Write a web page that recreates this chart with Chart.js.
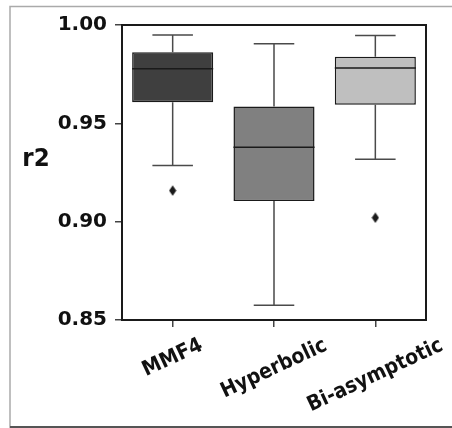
<!DOCTYPE html>
<html>
<head>
<meta charset="utf-8">
<script src="https://cdn.jsdelivr.net/npm/chart.js@4.4.0/dist/chart.umd.min.js"></script>
<style>
  html, body { margin: 0; padding: 0; background: #fff; }
  #wrap { width: 452px; height: 428px; position: relative; }
</style>
</head>
<body>
<div id="wrap"><canvas id="boxChart" width="452" height="428"></canvas></div>
<script>
// --- Data ---
const categories = ["MMF4", "Hyperbolic", "Bi-asymptotic"];
const whiskerLow = [0.9286, 0.8575, 0.9317];
const q1 = [0.9607, 0.9105, 0.9595];
const medians = [0.9778, 0.9378, 0.9781];
const q3 = [0.9861, 0.9585, 0.9839];
const whiskerHigh = [0.9949, 0.9905, 0.9946];
const outliers = [0.9158, null, 0.9020];
const yTicks = [0.85, 0.90, 0.95, 1.00];
const boxColors = ["#3f3f3f", "#808080", "#bfbfbf"];

Chart.defaults.font.family = "'DejaVu Sans', sans-serif";

// thin diamond marker like matplotlib 'd'
const diamond = document.createElement("canvas");
diamond.width = 8; diamond.height = 11;
(function () {
  const c = diamond.getContext("2d");
  c.fillStyle = "#1a1a1a";
  c.beginPath();
  c.moveTo(4, 0.3); c.lineTo(7.6, 5.5); c.lineTo(4, 10.7); c.lineTo(0.4, 5.5);
  c.closePath(); c.fill();
})();

// --- Whiskers, medians, frame and texts ---
const boxExtras = {
  id: "boxExtras",
  beforeDraw(chart) {
    const ctx = chart.ctx;
    ctx.save();
    ctx.lineWidth = 1.5;
    ctx.strokeStyle = "#aaa";
    ctx.beginPath();
    ctx.moveTo(10, 452); ctx.lineTo(10, 6.5); ctx.lineTo(452, 6.5);
    ctx.stroke();
    ctx.strokeStyle = "#555";
    ctx.lineWidth = 2;
    ctx.beginPath();
    ctx.moveTo(10, 427); ctx.lineTo(452, 427);
    ctx.stroke();
    ctx.restore();
  },
  afterDatasetsDraw(chart) {
    const ctx = chart.ctx;
    const x = chart.scales.x, y = chart.scales.y;
    const bars = chart.getDatasetMeta(0).data;
    ctx.save();
    categories.forEach((c, i) => {
      const cx = x.getPixelForValue(i);
      const half = bars[i].width / 2;
      const capHalf = half / 2;
      // whiskers
      ctx.strokeStyle = "#4a4a4a";
      ctx.lineWidth = 1.5;
      ctx.beginPath();
      ctx.moveTo(cx, y.getPixelForValue(q3[i]));
      ctx.lineTo(cx, y.getPixelForValue(whiskerHigh[i]));
      ctx.moveTo(cx, y.getPixelForValue(q1[i]));
      ctx.lineTo(cx, y.getPixelForValue(whiskerLow[i]));
      ctx.moveTo(cx - capHalf, y.getPixelForValue(whiskerHigh[i]));
      ctx.lineTo(cx + capHalf, y.getPixelForValue(whiskerHigh[i]));
      ctx.moveTo(cx - capHalf, y.getPixelForValue(whiskerLow[i]));
      ctx.lineTo(cx + capHalf, y.getPixelForValue(whiskerLow[i]));
      ctx.stroke();
      // median
      ctx.strokeStyle = "#1a1a1a";
      ctx.beginPath();
      ctx.moveTo(cx - half, y.getPixelForValue(medians[i]));
      ctx.lineTo(cx + half, y.getPixelForValue(medians[i]));
      ctx.stroke();
    });
    ctx.restore();
  },
  afterDraw(chart) {
    const ctx = chart.ctx;
    const a = chart.chartArea;
    const x = chart.scales.x;
    ctx.save();
    // plot frame
    ctx.strokeStyle = "#1a1a1a";
    ctx.lineWidth = 2;
    ctx.strokeRect(a.left, a.top, a.right - a.left, a.bottom - a.top);
    // y title, horizontal
    ctx.fillStyle = "#111";
    ctx.font = "bold 25px 'DejaVu Sans'";
    ctx.textAlign = "center";
    ctx.textBaseline = "middle";
    ctx.save();
    ctx.translate(36, (a.top + a.bottom) / 2 - 13);
    ctx.scale(0.92, 1);
    ctx.fillText("r2", 0, 0);
    ctx.restore();
    // x labels rotated 25deg, centred on tick
    const ang = 25 * Math.PI / 180;
    const fs = 21;
    ctx.font = "bold " + fs + "px 'DejaVu Sans'";
    categories.forEach((c, i) => {
      const w = ctx.measureText(c).width * 0.9;
      const bboxH = w * Math.sin(ang) + fs * Math.cos(ang);
      const cx = x.getPixelForValue(i);
      const cy = a.bottom + 15 + bboxH / 2;
      ctx.save();
      ctx.translate(cx, cy);
      ctx.rotate(-ang);
      ctx.scale(0.9, 1);
      ctx.fillText(c, 0, 0);
      ctx.restore();
    });
    ctx.restore();
  }
};

new Chart(document.getElementById("boxChart"), {
  type: "bar",
  data: {
    labels: categories,
    datasets: [{
      label: "IQR",
      data: q1.map((v, i) => [v, q3[i]]),
      backgroundColor: boxColors,
      borderColor: "#1a1a1a",
      borderWidth: 1.5,
      borderSkipped: false,
      barPercentage: 0.8,
      categoryPercentage: 1
    }, {
      type: "line",
      label: "outliers",
      data: outliers,
      showLine: false,
      pointStyle: diamond,
      pointRadius: 4,
      pointHoverRadius: 4
    }]
  },
  options: {
    responsive: false,
    animation: false,
    events: [],
    layout: { padding: { top: 25, right: 26, left: 0, bottom: 0 } },
    plugins: { legend: { display: false }, tooltip: { enabled: false } },
    scales: {
      x: {
        offset: true,
        grid: { offset: false, drawOnChartArea: false, tickLength: 7, color: "#444", lineWidth: 1.5 },
        border: { display: false },
        ticks: { display: false },
        afterFit(s) { s.height = 108; }
      },
      y: {
        min: 0.85,
        max: 1.0,
        afterBuildTicks(s) { s.ticks = yTicks.map(v => ({ value: v })); },
        grid: { drawOnChartArea: false, tickLength: 7, color: "#444", lineWidth: 1.5 },
        border: { display: false },
        ticks: {
          padding: 8,
          color: "#111",
          font: { size: 20, weight: "bold" },
          callback: v => v.toFixed(2)
        },
        afterFit(s) { s.width = 122; }
      }
    }
  },
  plugins: [boxExtras]
});
</script>
</body>
</html>
